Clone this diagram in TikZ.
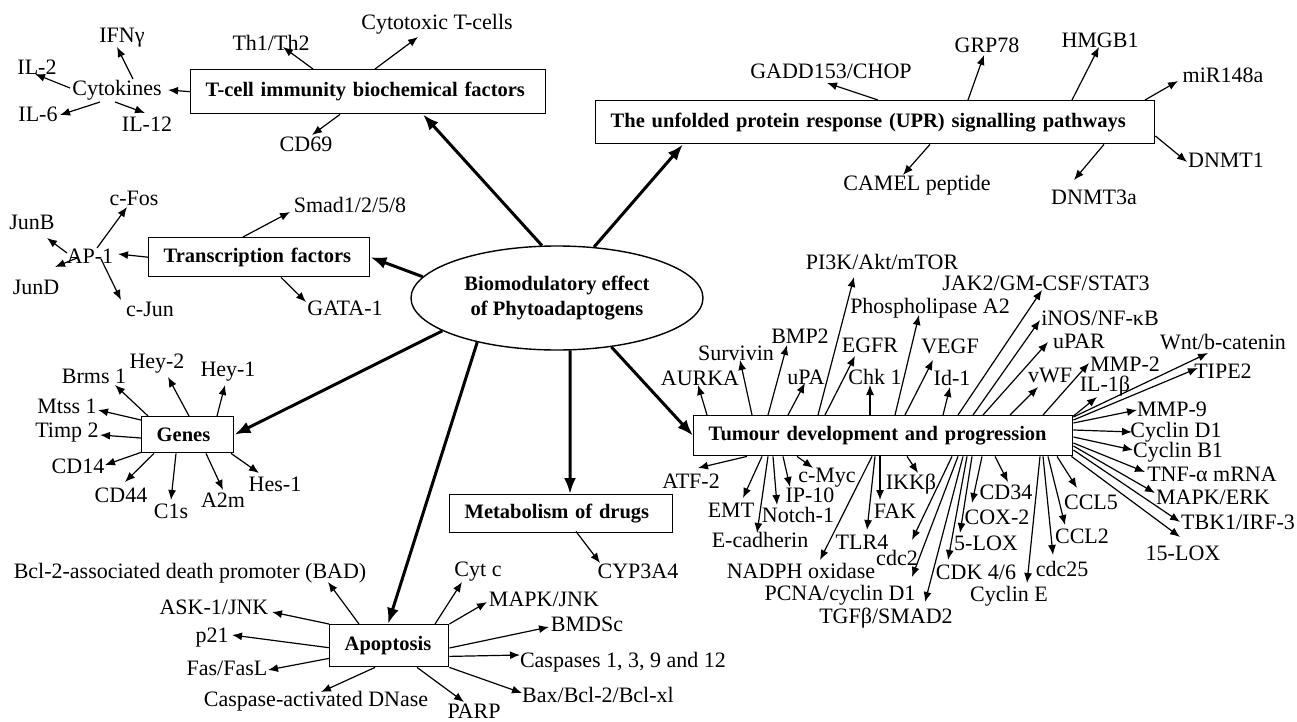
\documentclass[tikz,border=0pt]{standalone}
\usepackage{fontspec}
\setmainfont{Liberation Serif}
\usetikzlibrary{arrows.meta,shapes.geometric}
\newcommand\mylab[3]{\node[lbl] (#1) at (#2) {#3};}
\newcommand\myarw[3]{\draw[tarr] (#1) -- ([shift={(#3)}]#2.center);}
\begin{document}
\begin{tikzpicture}[x=1pt,y=-1pt,
 lbl/.style={inner sep=0pt, font=\fontsize{22}{24}\selectfont},
 tarr/.style={line width=1.2pt, -{Latex[length=10pt,width=8pt]}},
 karr/.style={line width=3pt, -{Latex[length=16pt,width=12pt]}},
 box/.style={draw, line width=1.4pt, anchor=north west, inner xsep=15pt, inner ysep=0pt, align=left, font=\bfseries\fontsize{20.5}{24}\selectfont},
]
\useasboundingbox (0,0) rectangle (1297,722);
\fill[white] (0,0) rectangle (1297,722);

% ---------- main boxes ----------
\node[box, minimum width=355pt, text width=325pt, minimum height=44pt] (tcell) at (190,69) {\mbox{T-cell immunity biochemical factors}};
\node[box, minimum width=559pt, text width=529pt, minimum height=43pt] (upr) at (595,100) {\mbox{The unfolded protein response (UPR) signalling pathways}};
\node[box, minimum width=221pt, text width=191pt, minimum height=39pt] (tf) at (148,237) {\mbox{Transcription factors}};
\node[box, minimum width=92pt, text width=62pt, minimum height=36pt] (genes) at (141,416) {\mbox{Genes}};
\node[box, minimum width=379pt, text width=349pt, minimum height=40pt] (tum) at (693,415) {\mbox{Tumour development and progression}};
\node[box, minimum width=223pt, text width=193pt, minimum height=38pt] (met) at (449,494) {\mbox{Metabolism of drugs}};
\node[box, minimum width=119pt, text width=89pt, minimum height=42pt] (apo) at (329,624) {\mbox{Apoptosis}};
\node[draw, ellipse, line width=1.4pt, minimum width=292pt, minimum height=104pt, inner sep=0pt, align=center, font=\bfseries\fontsize{20.5}{25}\selectfont] (ell) at (557,298) {Biomodulatory effect\\of Phytoadaptogens};

% ---------- thick arrows from centre ----------
\draw[karr] (ell.106.7) -- ([shift={(233,0)}]tcell.south west);
\draw[karr] (ell.54.2) -- ([shift={(88,0)}]upr.south west);
\draw[karr] (ell.171) -- (tf.east);
\draw[karr] (ell.196) -- (genes.east);
\draw[karr] (ell.209.4) -- ([shift={(59,0)}]apo.north west);
\draw[karr] (ell.284) -- ([shift={(121,0)}]met.north west);
\draw[karr] (ell.318.4) -- (tum.west);

% ---------- T-cell group ----------
\mylab{cyt}{117,90}{Cytokines}
\mylab{ifn}{122,38}{IFNγ}
\mylab{il2}{37,67}{IL-2}
\mylab{il6}{38,114}{IL-6}
\mylab{il12}{147,124}{IL-12}
\mylab{th}{271,43}{Th1/Th2}
\mylab{ctc}{437,24}{Cytotoxic T-cells}
\mylab{cd69}{306,144}{CD69}
\myarw{tcell.west}{cyt}{51,0}
\myarw{[shift={(16,-11)}]cyt.center}{ifn}{-5,9}
\myarw{[shift={(-47,-2)}]cyt.center}{il2}{-2,7}
\myarw{[shift={(-17,12)}]cyt.center}{il6}{22,1}
\myarw{[shift={(-2,12)}]cyt.center}{il12}{-2,-11}
\myarw{[shift={(123,0)}]tcell.north west}{th}{12,4}
\myarw{[shift={(185,0)}]tcell.north west}{ctc}{-19,13}
\myarw{[shift={(150,0)}]tcell.south west}{cd69}{6,-9}

% ---------- UPR group ----------
\mylab{gadd}{831,71}{GADD153/CHOP}
\mylab{grp}{987,45}{GRP78}
\mylab{hmgb}{1100,40}{HMGB1}
\mylab{mir}{1223,75}{miR148a}
\mylab{dnmta}{1226,160}{DNMT1}
\mylab{dnmtb}{1094,197}{DNMT3a}
\mylab{camel}{917,185}{CAMEL peptide}
\myarw{[shift={(283,0)}]upr.north west}{gadd}{-4,12}
\myarw{[shift={(373,0)}]upr.north west}{grp}{-3,10}
\myarw{[shift={(477,0)}]upr.north west}{hmgb}{-1,7}
\myarw{[shift={(550,0)}]upr.north west}{mir}{-45,6}
\myarw{[shift={(0,36)}]upr.north east}{dnmta}{-39,2}
\myarw{[shift={(509,0)}]upr.south west}{dnmtb}{-20,-17}
\myarw{[shift={(335,0)}]upr.south west}{camel}{-14,-10}

% ---------- Transcription factors ----------
\mylab{ap1}{90,256}{AP-1}
\mylab{junb}{32,222}{JunB}
\mylab{jund}{36,287}{JunD}
\mylab{cfos}{134,198}{c-Fos}
\mylab{cjun}{150,309}{c-Jun}
\mylab{smad}{350,205}{Smad1/2/5/8}
\mylab{gata}{345,308}{GATA-1}
\myarw{tf.west}{ap1}{28,-2}
\myarw{[shift={(95,0)}]tf.north west}{smad}{-60,7}
\myarw{[shift={(133,0)}]tf.south west}{gata}{-39,-6}
\myarw{[shift={(-23,-3)}]ap1.center}{junb}{15,16}
\myarw{[shift={(-13,2)}]ap1.center}{jund}{19,-20}
\myarw{[shift={(7,-8)}]ap1.center}{cfos}{-7,9}
\myarw{[shift={(11,3)}]ap1.center}{cjun}{-29,-9}

% ---------- Genes ----------
\mylab{brms}{94,376}{Brms 1}
\mylab{heyb}{157,364}{Hey-2}
\mylab{heya}{228,372}{Hey-1}
\mylab{mtss}{67,406}{Mtss 1}
\mylab{timp}{67,433}{Timp 2}
\mylab{cdft}{78,466}{CD14}
\mylab{cdff}{121,495}{CD44}
\mylab{cones}{171,511}{C1s}
\mylab{atm}{223,500}{A2m}
\mylab{hes}{275,484}{Hes-1}
\myarw{[shift={(7,0)}]genes.north west}{brms}{21,9}
\myarw{[shift={(48,0)}]genes.north west}{heyb}{11,13}
\myarw{[shift={(76,0)}]genes.north west}{heya}{-3,13}
\myarw{[shift={(0,4)}]genes.north west}{mtss}{31,4}
\myarw{[shift={(0,22)}]genes.north west}{timp}{33,2}
\myarw{[shift={(0,-1)}]genes.south west}{cdft}{27,-1}
\myarw{[shift={(13,0)}]genes.south west}{cdff}{4,-13}
\myarw{[shift={(35,0)}]genes.south west}{cones}{0,-11}
\myarw{[shift={(65,0)}]genes.south west}{atm}{0,-10}
\myarw{[shift={(90,0)}]genes.south west}{hes}{-16,-11}

% ---------- Apoptosis ----------
\mylab{bad}{190,573}{Bcl-2-associated death promoter (BAD)}
\mylab{ask}{214,607}{ASK-1/JNK}
\mylab{ptwo}{212,638}{p21}
\mylab{fas}{227,668}{Fas/FasL}
\mylab{dnase}{316,701}{Caspase-activated DNase}
\mylab{parp}{474,711}{PARP}
\mylab{bax}{598,695}{Bax/Bcl-2/Bcl-xl}
\mylab{casp}{623,662}{Caspases 1, 3, 9 and 12}
\mylab{bmdsc}{587,624}{BMDSc}
\mylab{mapkjnk}{544,599}{MAPK/JNK}
\mylab{cytc}{478,572}{Cyt c}
\myarw{[shift={(30,0)}]apo.north west}{bad}{138,9}
\myarw{apo.north west}{ask}{58,5}
\myarw{[shift={(0,2)}]apo.west}{ptwo}{20,-3}
\myarw{[shift={(0,-9)}]apo.south west}{fas}{41,2}
\myarw{[shift={(46,0)}]apo.south west}{dnase}{5,-9}
\myarw{[shift={(88,0)}]apo.south west}{parp}{-10,-9}
\myarw{apo.south east}{bax}{-76,-2}
\myarw{[shift={(0,-11)}]apo.south east}{casp}{-103,-7}
\myarw{[shift={(0,24)}]apo.north east}{bmdsc}{-38,3}
\myarw{apo.north east}{mapkjnk}{-57,3}
\myarw{[shift={(106,0)}]apo.north west}{cytc}{-16,10}

% ---------- Metabolism ----------
\mylab{cyp}{638,571}{CYP3A4}
\myarw{[shift={(127,-2)}]met.south west}{cyp}{-38,-8}

% ---------- Tumour: top ----------
\mylab{aurka}{700,378}{AURKA}
\mylab{surv}{736,353}{Survivin}
\mylab{bmp}{800,336}{BMP2}
\mylab{upa}{806,377}{uPA}
\mylab{pik}{882,262}{PI3K/Akt/mTOR}
\mylab{egfr}{870,345}{EGFR}
\mylab{chk}{875,377}{Chk 1}
\mylab{phos}{930,308}{Phospholipase A2}
\mylab{vegf}{950,346}{VEGF}
\mylab{ida}{952,378}{Id-1}
\mylab{jak}{1046,283}{JAK2/GM-CSF/STAT3}
\mylab{inos}{1100,318}{iNOS/NF-κB}
\mylab{upar}{1079,341}{uPAR}
\mylab{vwf}{1050,375}{vWF}
\mylab{mmpb}{1125,364}{MMP-2}
\myarw{[shift={(14,0)}]tum.north west}{aurka}{-2,7}
\myarw{[shift={(59,0)}]tum.north west}{surv}{4,7}
\myarw{[shift={(75,0)}]tum.north west}{bmp}{-13,9}
\myarw{[shift={(95,0)}]tum.north west}{upa}{-1,6}
\myarw{[shift={(125,0)}]tum.north west}{pik}{-28,15}
\myarw{[shift={(132,0)}]tum.north west}{egfr}{-15,11}
\myarw{[shift={(177,0)}]tum.north west}{chk}{-5,8}
\myarw{[shift={(202,0)}]tum.north west}{phos}{-11,7}
\myarw{[shift={(212,0)}]tum.north west}{vegf}{-17,14}
\myarw{[shift={(250,0)}]tum.north west}{ida}{-2,9}
\myarw{[shift={(265,0)}]tum.north west}{jak}{-4,7}
\myarw{[shift={(280,0)}]tum.north west}{inos}{-60,2}
\myarw{[shift={(290,0)}]tum.north west}{upar}{-31,1}
\myarw{[shift={(317,0)}]tum.north west}{vwf}{-12,12}
\myarw{[shift={(350,0)}]tum.north west}{mmpb}{-36,-1}

% ---------- Tumour: right ----------
\mylab{ilb}{1105,386}{IL-1β}
\mylab{wnt}{1223,342}{Wnt/b-catenin}
\mylab{tipe}{1223,371}{TIPE2}
\mylab{mmpn}{1172,409}{MMP-9}
\mylab{ccd}{1176,432}{Cyclin D1}
\mylab{ccb}{1178,452}{Cyclin B1}
\mylab{tnf}{1212,474}{TNF-α mRNA}
\mylab{mapkerk}{1213,497}{MAPK/ERK}
\mylab{tbk}{1238,522}{TBK1/IRF-3}
\mylab{loxf}{1183,553}{15-LOX}
\myarw{[shift={(0,1)}]tum.north east}{ilb}{-8,11}
\myarw{[shift={(0,2)}]tum.north east}{wnt}{-15,11}
\myarw{[shift={(0,5)}]tum.north east}{tipe}{-25,-3}
\myarw{[shift={(0,8)}]tum.north east}{mmpn}{-35,1}
\myarw{[shift={(0,15)}]tum.north east}{ccd}{-44,0}
\myarw{[shift={(0,22)}]tum.north east}{ccb}{-45,-2}
\myarw{[shift={(0,28)}]tum.north east}{tnf}{-67,-2}
\myarw{[shift={(0,31)}]tum.north east}{mapkerk}{-58,-4}
\myarw{[shift={(0,35)}]tum.north east}{tbk}{-58,0}
\myarw{[shift={(-2,0)}]tum.south east}{loxf}{-3,-16}

% ---------- Tumour: bottom ----------
\mylab{atf}{691,481}{ATF-2}
\mylab{emt}{731,510}{EMT}
\mylab{ecad}{760,540}{E-cadherin}
\mylab{notch}{798,515}{Notch-1}
\mylab{ipt}{810,495}{IP-10}
\mylab{cmyc}{827,478}{c-Myc}
\mylab{nadph}{801,571}{NADPH oxidase}
\mylab{tlr}{862,542}{TLR4}
\mylab{fak}{895,511}{FAK}
\mylab{ikk}{911,484}{IKKβ}
\mylab{cdct}{897,558}{cdc2}
\mylab{pcna}{840,595}{PCNA/cyclin D1}
\mylab{tgf}{886,618}{TGFβ/SMAD2}
\mylab{cdk}{976,572}{CDK 4/6}
\mylab{loxv}{986,543}{5-LOX}
\mylab{cox}{997,517}{COX-2}
\mylab{cdtf}{1006,492}{CD34}
\mylab{cyce}{1009,596}{Cyclin E}
\mylab{cdctf}{1062,569}{cdc25}
\mylab{cclt}{1082,536}{CCL2}
\mylab{cclf}{1091,502}{CCL5}
\myarw{[shift={(54,0)}]tum.south west}{atf}{7,-13}
\myarw{[shift={(69,0)}]tum.south west}{emt}{12,-12}
\myarw{[shift={(75,0)}]tum.south west}{ecad}{-3,-7}
\myarw{[shift={(80,0)}]tum.south west}{notch}{-21,-10}
\myarw{[shift={(90,0)}]tum.south west}{ipt}{-20,-8}
\myarw{[shift={(104,0)}]tum.south west}{cmyc}{-14,-10}
\myarw{[shift={(179,0)}]tum.south west}{nadph}{19,-11}
\myarw{[shift={(182,0)}]tum.south west}{tlr}{5,-12}
\myarw{[shift={(187,0)}]tum.south west}{fak}{-15,-11}
\myarw{[shift={(214,0)}]tum.south west}{ikk}{7,-11}
\myarw{[shift={(259,0)}]tum.south west}{cdct}{15,-18}
\myarw{[shift={(265,0)}]tum.south west}{pcna}{72,-18}
\myarw{[shift={(270,0)}]tum.south west}{tgf}{39,-16}
\myarw{[shift={(274,0)}]tum.south west}{cdk}{-28,-12}
\myarw{[shift={(279,0)}]tum.south west}{loxv}{-26,-10}
\myarw{[shift={(289,0)}]tum.south west}{cox}{-25,-14}
\myarw{[shift={(302,0)}]tum.south west}{cdtf}{2,-10}
\myarw{[shift={(347,0)}]tum.south west}{cyce}{18,-13}
\myarw{[shift={(350,0)}]tum.south west}{cdctf}{-9,-14}
\myarw{[shift={(355,0)}]tum.south west}{cclt}{-17,-11}
\myarw{[shift={(364,0)}]tum.south west}{cclf}{-14,-14}
\end{tikzpicture}
\end{document}
